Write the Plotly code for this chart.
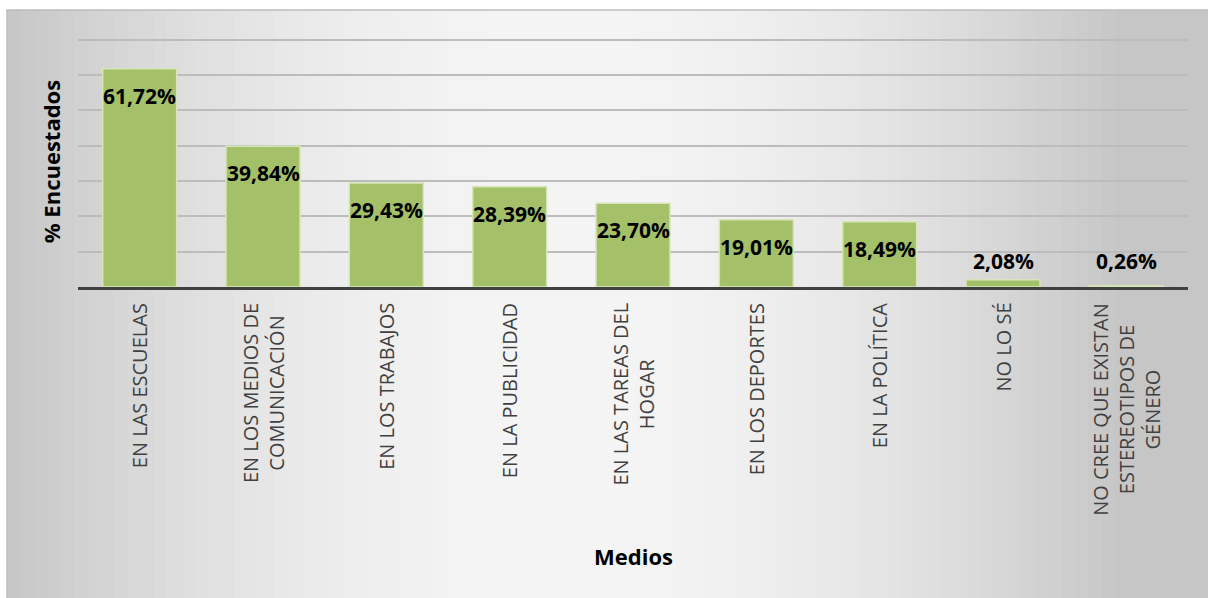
import math
import plotly.graph_objects as go

# datos
medios = [
    "EN LAS ESCUELAS",
    "EN LOS MEDIOS DE<br>COMUNICACIÓN",
    "EN LOS TRABAJOS",
    "EN LA PUBLICIDAD",
    "EN LAS TAREAS DEL<br>HOGAR",
    "EN LOS DEPORTES",
    "EN LA POLÍTICA",
    "NO LO SÉ",
    "NO CREE QUE EXISTAN<br>ESTEREOTIPOS DE<br>GÉNERO",
]
porcentajes = [61.72, 39.84, 29.43, 28.39, 23.70, 19.01, 18.49, 2.08, 0.26]
etiquetas = ["61,72%", "39,84%", "29,43%", "28,39%", "23,70%", "19,01%", "18,49%", "2,08%", "0,26%"]

W, H = 1208, 598
ML, MR, MT, MB = 78, 20, 36, 311
PW, PH = W - ML - MR, H - MT - MB


def px_x(p):
    return (p - ML) / PW


def px_y(p):
    return (H - MB - p) / PH


fig = go.Figure(go.Bar(
    x=medios, y=porcentajes,
    marker=dict(color="#a4c16a", line=dict(color="#d6e6b8", width=1.5)),
    hoverinfo="skip",
))

# fondo degradado del gráfico
shapes = []
n = 90
x0, x1 = 7, W
for i in range(n):
    t = (i + 0.5) / n
    v = int(198 + 47 * math.sin(math.pi * min(1, t * 1.08)) ** 0.9)
    c = f"rgb({v},{v},{v})"
    a = x0 + (x1 - x0) * i / n
    b = x0 + (x1 - x0) * (i + 1) / n + 0.6
    shapes.append(dict(type="rect", xref="paper", yref="paper",
                       x0=px_x(a), x1=px_x(b), y0=px_y(H), y1=px_y(10),
                       fillcolor=c, line=dict(width=0), layer="below"))
shapes.append(dict(type="rect", xref="paper", yref="paper",
                   x0=px_x(7), x1=px_x(W + 2), y0=px_y(H + 2), y1=px_y(10),
                   line=dict(color="#bdbdbd", width=1.5), layer="below"))

annotations = []
for m, v, e in zip(medios, porcentajes, etiquetas):
    if v > 10:
        annotations.append(dict(x=m, y=v, text=e, showarrow=False, yanchor="middle",
                                yshift=-27, font=dict(family="Open Sans", size=21, color="black",
                                                      weight="bold")))
    else:
        annotations.append(dict(x=m, y=0, text=e, showarrow=False, yanchor="middle",
                                yshift=26, font=dict(family="Open Sans", size=21, color="black",
                                                     weight="bold")))
    annotations.append(dict(x=m, y=0, yref="paper", text=m, showarrow=False, textangle=-90,
                            yanchor="top", xanchor="center", align="center", yshift=-14,
                            font=dict(family="Open Sans", size=20, color="#404040")))

annotations.append(dict(x=0.5, y=px_y(556), xref="paper", yref="paper", text="<b>Medios</b>",
                        showarrow=False, yanchor="middle",
                        font=dict(family="Open Sans", size=22, color="black")))

fig.update_layout(
    width=W, height=H,
    margin=dict(l=ML, r=MR, t=MT, b=MB),
    paper_bgcolor="white", plot_bgcolor="rgba(0,0,0,0)",
    bargap=0.4, showlegend=False,
    shapes=shapes, annotations=annotations,
    xaxis=dict(showticklabels=False, showline=True, linecolor="#404040", linewidth=3,
               ticks="", showgrid=False),
    yaxis=dict(range=[0, 71], dtick=10, showticklabels=False, showgrid=True,
               gridcolor="#bcbcbc", gridwidth=1.5, zeroline=False, ticks="",
               title=dict(text="<b>% Encuestados</b>", standoff=10,
                          font=dict(family="Open Sans", size=22, color="black"))),
)

fig.write_html("out.html", config={"displayModeBar": False},
               post_script="document.body.style.margin='0';")
